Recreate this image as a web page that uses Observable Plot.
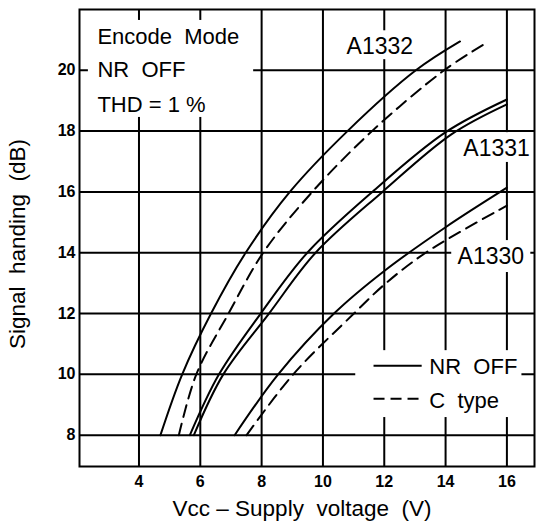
<!DOCTYPE html>
<html><head><meta charset="utf-8">
<script src="https://cdn.jsdelivr.net/npm/d3@7"></script>
<script src="https://cdn.jsdelivr.net/npm/@observablehq/plot@0.6"></script>
<style>
body{margin:0;background:#fff}
#chart{width:536px;height:522px}
#chart svg{font-family:"Liberation Sans",Arial,sans-serif}
</style>
</head><body><div id="chart"></div>
<script>
// tick labels
const xTicks = [4, 6, 8, 10, 12, 14, 16];
const yTicks = [8, 10, 12, 14, 16, 18, 20];

// series values (V, dB)
const a1332NrOffV  = [4.70, 5.41, 6.35, 7.48, 8.92, 10.8, 13.03, 14.47];
const a1332NrOffDb = [8, 10, 12, 14, 16, 18, 20, 20.95];
const a1332CTypeV  = [5.30, 5.87, 6.92, 8.05, 9.65, 11.6, 13.95, 15.26];
const a1332CTypeDb = [8, 10, 12, 14, 16, 18, 20, 20.86];

const a1331NrOffV  = [5.66, 6.61, 7.97, 9.49, 11.61, 13.98, 16.0];
const a1331NrOffDb = [8, 10, 12, 14, 16, 17.95, 19.04];
const a1331CTypeV  = [5.79, 6.75, 8.24, 9.76, 11.94, 14.2, 16.0];
const a1331CTypeDb = [8, 10, 12, 14, 16, 17.9, 18.88];

const a1330NrOffV  = [7.12, 8.54, 10.36, 12.0, 14.0, 16.0];
const a1330NrOffDb = [8, 10, 12, 13.4, 14.84, 16.14];
const a1330CTypeV  = [7.51, 9.03, 11.01, 12.0, 13.35, 16.0];
const a1330CTypeDb = [8, 10, 12, 12.95, 14, 15.55];

const devices = ["A1332", "A1331", "A1330"];
const modes = ["NR OFF", "C type"];

const series = [
  {device: "A1332", mode: "NR OFF", v: a1332NrOffV, db: a1332NrOffDb},
  {device: "A1332", mode: "C type", v: a1332CTypeV, db: a1332CTypeDb},
  {device: "A1331", mode: "NR OFF", v: a1331NrOffV, db: a1331NrOffDb},
  {device: "A1331", mode: "C type", v: a1331CTypeV, db: a1331CTypeDb},
  {device: "A1330", mode: "NR OFF", v: a1330NrOffV, db: a1330NrOffDb},
  {device: "A1330", mode: "C type", v: a1330CTypeV, db: a1330CTypeDb}
];
const rows = series.flatMap(s => s.v.map((v, i) => ({key: s.device + " " + s.mode, device: s.device, mode: s.mode, v, db: s.db[i]})));
// in the picture the A1331 pair is drawn with two solid lines
const isSolid = d => d.mode === "NR OFF" || d.device === "A1331";
const solidRows = rows.filter(isSolid);
const dashedRows = rows.filter(d => !isSolid(d));

const NB = "\u00a0";
// white areas where the printed grid is interrupted behind the labels
const masks = [
  {x1: 2.35, x2: 7.74, y1: 18.45, y2: 21.64},
  {x1: 10.6, x2: 13.05, y1: 20.35, y2: 21.3},
  {x1: 14.45, x2: 16.95, y1: 16.97, y2: 17.95},
  {x1: 14.2, x2: 16.78, y1: 13.35, y2: 14.4},
  {x1: 11.07, x2: 16.49, y1: 8.58, y2: 10.78}
];
const notes = [
  {x: 2.645, y: 21.10, text: "Encode" + NB + NB + "Mode", size: 22},
  {x: 2.645, y: 20.02, text: "NR" + NB + NB + "OFF", size: 22},
  {x: 2.645, y: 18.86, text: "THD = 1 %", size: 22},
  {x: 10.77, y: 20.79, text: devices[0], size: 23},
  {x: 14.58, y: 17.43, text: devices[1], size: 23},
  {x: 14.39, y: 13.86, text: devices[2], size: 23},
  {x: 13.47, y: 10.23, text: "NR" + NB + NB + "OFF", size: 22},
  {x: 13.47, y: 9.13, text: "C" + NB + NB + "type", size: 22}
];
const legendLines = [
  {x1: 11.65, x2: 13.22, y: 10.28, mode: modes[0]},
  {x1: 11.65, x2: 13.22, y: 9.2, mode: modes[1]}
];

const chart = Plot.plot({
  width: 536,
  height: 522,
  marginLeft: 79,
  marginRight: 2,
  marginTop: 9,
  marginBottom: 56,
  x: {domain: [2.06, 16.9]},
  y: {domain: [6.97, 22.0]},
  style: {background: "white", color: "black", fontFamily: "Liberation Sans, Arial, sans-serif"},
  marks: [
    Plot.ruleX(xTicks, {stroke: "black", strokeWidth: 2}),
    Plot.ruleY(yTicks, {stroke: "black", strokeWidth: 2}),
    Plot.rect(masks, {x1: "x1", x2: "x2", y1: "y1", y2: "y2", fill: "white"}),
    Plot.line(solidRows, {x: "v", y: "db", z: "key", stroke: "black", strokeWidth: 2, curve: "catmull-rom"}),
    Plot.line(dashedRows, {x: "v", y: "db", z: "key", stroke: "black", strokeWidth: 2, strokeDasharray: "12,7", curve: "catmull-rom"}),
    Plot.frame({stroke: "black", strokeWidth: 2}),
    Plot.link(legendLines.filter(d => d.mode === "NR OFF"), {x1: "x1", x2: "x2", y1: "y", y2: "y", stroke: "black", strokeWidth: 2}),
    Plot.link(legendLines.filter(d => d.mode === "C type"), {x1: "x1", x2: "x2", y1: "y", y2: "y", stroke: "black", strokeWidth: 2, strokeDasharray: "11,6"}),
    Plot.text(notes.filter(d => d.size === 22), {x: "x", y: "y", text: "text", textAnchor: "start", lineAnchor: "middle", fontSize: 22, fill: "black"}),
    Plot.text(notes.filter(d => d.size === 23), {x: "x", y: "y", text: "text", textAnchor: "start", lineAnchor: "middle", fontSize: 23, fill: "black"}),
    Plot.axisX(xTicks, {tickSize: 0, tickPadding: 9.5, fontSize: 16, fontWeight: "bold", label: null}),
    Plot.axisY(yTicks, {tickSize: 0, tickPadding: 4, fontSize: 16, fontWeight: "bold", label: null}),
    Plot.text(["Vcc" + NB + "–" + NB + "Supply" + NB + NB + "voltage" + NB + NB + "(V)"], {frameAnchor: "bottom", dx: -5, dy: 42, fontSize: 22.5, textAnchor: "middle", lineAnchor: "middle", fill: "black"}),
    Plot.text(["Signal" + NB + NB + "handing" + NB + NB + "(dB)"], {frameAnchor: "left", dx: -62, dy: 6, rotate: -90, fontSize: 22.5, textAnchor: "middle", lineAnchor: "middle", fill: "black"})
  ]
});
document.getElementById("chart").append(chart);
</script>
</body></html>
